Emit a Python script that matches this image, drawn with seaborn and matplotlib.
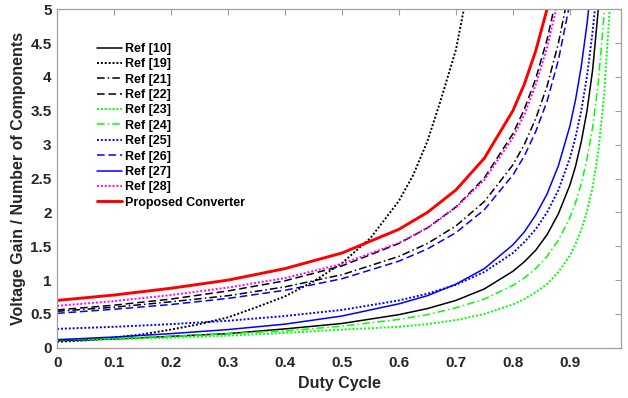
import numpy as np
import pandas as pd
import seaborn as sns
import matplotlib.pyplot as plt
from matplotlib.ticker import FormatStrFormatter

# duty cycle grids
d_base = [0, 0.1, 0.2, 0.3, 0.4, 0.5, 0.6, 0.65, 0.7, 0.75, 0.8, 0.82, 0.84, 0.86, 0.88, 0.9, 0.91, 0.92, 0.93, 0.94, 0.95, 0.96, 0.97]

d_ref10 = d_base[:20] + [0.95]
g_ref10 = [0.105, 0.13, 0.17, 0.21, 0.28, 0.36, 0.49, 0.58, 0.70, 0.87, 1.13, 1.27, 1.44, 1.67, 1.98, 2.40, 2.68, 3.04, 3.49, 4.10, 5.0]

d_ref19 = [0, 0.05, 0.1, 0.15, 0.2, 0.25, 0.3, 0.35, 0.4, 0.45, 0.5, 0.55, 0.6, 0.625, 0.65, 0.675, 0.7, 0.714]
g_ref19 = [0.09, 0.11, 0.15, 0.20, 0.27, 0.35, 0.45, 0.60, 0.76, 0.98, 1.25, 1.62, 2.17, 2.55, 3.05, 3.70, 4.40, 5.0]

d_ref21 = d_base[:15] + [0.892]
g_ref21 = [0.54, 0.60, 0.68, 0.77, 0.90, 1.08, 1.35, 1.54, 1.80, 2.16, 2.70, 3.00, 3.38, 3.86, 4.50, 5.0]

d_ref22 = d_base[:14] + [0.872]
g_ref22 = [0.56, 0.63, 0.72, 0.84, 0.99, 1.21, 1.54, 1.77, 2.08, 2.51, 3.16, 3.52, 3.97, 4.55, 5.0]

d_ref23 = d_base
g_ref23 = [0.12, 0.13, 0.15, 0.18, 0.22, 0.27, 0.31, 0.35, 0.41, 0.50, 0.64, 0.72, 0.82, 0.94, 1.12, 1.36, 1.53, 1.74, 2.01, 2.37, 2.90, 3.71, 5.0]

d_ref24 = d_base[:21] + [0.961]
g_ref24 = [0.12, 0.14, 0.17, 0.21, 0.25, 0.32, 0.42, 0.49, 0.59, 0.72, 0.92, 1.03, 1.17, 1.35, 1.59, 1.92, 2.14, 2.42, 2.78, 3.25, 3.92, 5.0]

d_ref25 = d_base[:20] + [0.944]
g_ref25 = [0.28, 0.31, 0.35, 0.40, 0.47, 0.56, 0.70, 0.80, 0.93, 1.12, 1.40, 1.56, 1.75, 2.00, 2.33, 2.80, 3.11, 3.50, 4.00, 4.67, 5.0]

d_ref26 = d_base[:15] + [0.898]
g_ref26 = [0.51, 0.57, 0.64, 0.73, 0.85, 1.02, 1.28, 1.46, 1.70, 2.04, 2.55, 2.83, 3.19, 3.64, 4.25, 5.0]

d_ref27 = d_base[:19] + [0.933]
g_ref27 = [0.12, 0.16, 0.21, 0.27, 0.35, 0.47, 0.65, 0.77, 0.94, 1.17, 1.52, 1.71, 1.96, 2.27, 2.69, 3.27, 3.66, 4.15, 4.77, 5.0]

d_ref28 = d_base[:14] + [0.876]
g_ref28 = [0.62, 0.69, 0.78, 0.89, 1.03, 1.24, 1.55, 1.77, 2.07, 2.48, 3.10, 3.44, 3.88, 4.43, 5.0]

d_prop = d_base[:13] + [0.86]
g_prop = [0.70, 0.78, 0.88, 1.00, 1.17, 1.40, 1.75, 2.00, 2.33, 2.80, 3.50, 3.89, 4.38, 5.0]

dot = (0, (1, 1))
dash = (0, (5, 2.5))
dashdot = (0, (5, 2, 1, 2))

series = [
    ("Ref [10]", d_ref10, g_ref10, "black", "-", 1.1),
    ("Ref [19]", d_ref19, g_ref19, "black", dot, 1.4),
    ("Ref [21]", d_ref21, g_ref21, "black", dashdot, 1.1),
    ("Ref [22]", d_ref22, g_ref22, "black", dash, 1.1),
    ("Ref [23]", d_ref23, g_ref23, "#00ff00", dot, 1.4),
    ("Ref [24]", d_ref24, g_ref24, "#00ff00", dashdot, 1.1),
    ("Ref [25]", d_ref25, g_ref25, "#0000ff", dot, 1.4),
    ("Ref [26]", d_ref26, g_ref26, "#0000ff", dash, 1.1),
    ("Ref [27]", d_ref27, g_ref27, "#0000ff", "-", 1.1),
    ("Ref [28]", d_ref28, g_ref28, "#ff00ff", dot, 1.4),
    ("Proposed Converter", d_prop, g_prop, "#ff0000", "-", 2.1),
]

sns.set_theme(style="white")
plt.rcParams['font.family'] = ['Liberation Sans', 'DejaVu Sans']
plt.rcParams['font.weight'] = 'bold'

fig = plt.figure(figsize=(6.28, 3.98), dpi=100)
ax = fig.add_axes([0.091, 0.126, 0.898, 0.851])

for name, d, g, col, ls, lw in series:
    sns.lineplot(x=d, y=g, ax=ax, color=col, linestyle=ls, linewidth=lw, label=name)

ax.set_xlim(0, 0.99)
ax.set_ylim(0, 5)
ax.set_xticks(np.arange(0, 0.95, 0.1))
ax.set_yticks(np.arange(0, 5.01, 0.5))
ax.xaxis.set_major_formatter(FormatStrFormatter('%g'))
ax.yaxis.set_major_formatter(FormatStrFormatter('%g'))
ax.tick_params(direction='in', length=4, width=0.8, color='#a0a0a0',
               top=True, right=True, labelsize=11, labelcolor='#262626')
ax.tick_params(axis='x', pad=6)
ax.tick_params(axis='y', pad=4)
for lab in ax.get_xticklabels() + ax.get_yticklabels():
    lab.set_fontweight('bold')
for sp in ax.spines.values():
    sp.set_color('#a0a0a0')
    sp.set_linewidth(0.9)

ax.set_xlabel('Duty Cycle', fontsize=11.5, fontweight='bold', color='#262626', labelpad=4)
ax.set_ylabel('Voltage Gain / Number of Components', fontsize=11.5, fontweight='bold', color='#262626', labelpad=3)

leg = ax.legend(loc='upper left', bbox_to_anchor=(0.062, 0.915), frameon=False,
                fontsize=9, handlelength=2.0, handletextpad=0.25, labelspacing=0.27,
                borderaxespad=0)
for t in leg.get_texts():
    t.set_fontweight('bold')
    t.set_color('#000000')

fig.savefig('out.png', dpi=100)
